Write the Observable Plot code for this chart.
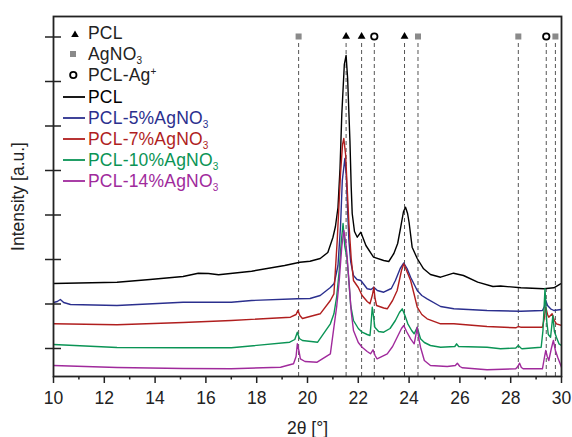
<!DOCTYPE html>
<html><head><meta charset="utf-8">
<script src="https://cdn.jsdelivr.net/npm/d3@7"></script>
<script src="https://cdn.jsdelivr.net/npm/@observablehq/plot@0.6"></script>
<style>
body{margin:0;background:#fff;font-family:"Liberation Sans",Arial,sans-serif;}
#wrap{position:relative;width:572px;height:437px;}
.row{position:absolute;font-size:17.5px;white-space:nowrap;line-height:15px;height:15px;letter-spacing:0.2px;}
.row sub{font-size:10px;vertical-align:-4px;line-height:0;}
.row sup{font-size:10px;vertical-align:6px;line-height:0;}
.sym{position:absolute;}
</style></head><body><div id="wrap"></div>
<script>
// ---- data ----
const seriesNames = ["PCL", "PCL-5%AgNO3", "PCL-7%AgNO3", "PCL-10%AgNO3", "PCL-14%AgNO3"];
const seriesColors = ["#000000", "#2b2f8e", "#b01e1e", "#0a9455", "#a02a9c"];

const pcl = [[10.0,93],[11.0,93.5],[12.5,94.3],[13.8,97],[15.1,100],[15.7,103.3],[16.1,103],[16.5,101.7],[17.8,105.3],[19.1,111],[19.7,114.3],[20.1,115.3],[20.5,118],[20.8,124],[21.0,139],[21.1,150],[21.2,169],[21.28,208],[21.35,262],[21.45,312],[21.52,321],[21.58,298],[21.67,236],[21.72,190],[21.76,163],[21.85,145],[21.96,139.3],[22.1,144.3],[22.3,131],[22.6,119.3],[23.0,116],[23.2,115],[23.4,123],[23.55,133],[23.66,148],[23.78,165],[23.86,169.3],[23.94,163],[24.0,154],[24.12,129.3],[24.32,118],[24.57,107.7],[24.84,102],[25.24,99.3],[25.75,103.3],[26.14,101],[26.7,94.3],[27.3,90],[27.6,90.5],[28.4,88.7],[29.3,87.7],[29.7,88.7],[29.96,92.7],[30.0,93]];
const pcl5 = [[10.0,74],[10.15,75],[10.27,77],[10.4,74],[10.67,72],[12.5,71],[15.1,74.3],[17.0,74.3],[17.8,76],[19.6,77.7],[20.1,78],[20.5,81],[20.9,89],[21.05,93],[21.2,111],[21.3,150],[21.37,196],[21.47,218],[21.53,200],[21.58,166],[21.63,136],[21.7,115],[21.81,101],[21.95,97],[22.1,96],[22.35,87.7],[22.5,87],[22.61,89.3],[22.75,86],[23.0,84.3],[23.3,88],[23.46,96],[23.65,108],[23.79,113.5],[23.92,108],[24.06,99.3],[24.32,86],[24.5,81],[24.71,77.7],[25.24,70],[25.76,67.7],[27.07,66],[28.4,65.3],[29.25,66],[29.33,70],[29.38,76],[29.45,71],[29.57,67.7],[29.7,66],[30.0,67]];
const pcl7 = [[10.0,52.7],[12.5,51.7],[15.1,54],[17.0,56],[19.33,59.3],[19.55,62],[19.62,66],[19.7,61],[19.8,58],[20.5,62.7],[20.9,76],[21.04,82.7],[21.17,136],[21.3,203],[21.38,232],[21.43,238],[21.5,222],[21.56,190],[21.63,153],[21.72,118],[21.81,96],[22.0,89],[22.15,81],[22.35,75],[22.46,72.7],[22.56,82],[22.61,89.3],[22.66,78],[22.72,71],[23.0,68.5],[23.14,67.7],[23.35,76],[23.53,86],[23.7,106],[23.79,112.7],[23.9,106],[24.06,96],[24.2,82],[24.32,69.3],[24.5,62],[24.71,57.7],[25.24,52.7],[25.76,52.7],[27.07,50],[28.2,48.7],[28.3,50],[28.39,49.3],[29.25,49.3],[29.32,58],[29.38,69.3],[29.45,62],[29.5,59.3],[29.63,62.7],[29.72,56],[29.8,52.7],[30.0,51]];
const pcl10 = [[10.0,32],[12.5,29],[15.1,28.7],[17.0,28.7],[19.3,34.3],[19.5,37],[19.6,44.3],[19.68,38],[19.8,36],[20.4,34.3],[20.9,52.7],[21.04,62.7],[21.15,80],[21.25,106],[21.33,135],[21.4,153],[21.47,130],[21.55,119.3],[21.63,95],[21.7,71],[21.81,56],[22.0,48],[22.15,44.3],[22.35,42],[22.46,41],[22.5,52],[22.55,69.3],[22.6,60],[22.65,49.3],[22.8,45],[23.0,44.3],[23.25,48],[23.46,56],[23.62,64],[23.73,67.7],[23.85,60],[23.95,52.7],[24.1,46],[24.2,42.7],[24.32,49.3],[24.4,42],[24.45,37.7],[24.6,34],[24.84,31],[25.24,29.3],[25.8,30],[25.87,32.7],[25.95,30],[27.07,29.3],[27.6,27.7],[28.2,28.5],[28.3,31],[28.4,28.5],[28.45,27.7],[29.2,29.3],[29.27,46],[29.35,87.7],[29.42,55],[29.48,42],[29.57,39.3],[29.66,61],[29.72,45],[29.8,39.3],[29.9,32.7],[30.0,31]];
const pcl14 = [[10.0,11],[12.5,9],[15.1,8],[17.0,7.7],[18.94,9.3],[19.45,12.7],[19.55,20],[19.6,32.7],[19.66,26],[19.72,17.7],[19.9,15],[20.38,14.3],[20.9,22.7],[21.04,49.3],[21.15,70],[21.25,96],[21.35,130],[21.43,146],[21.5,135],[21.55,123],[21.63,96],[21.72,65],[21.81,46],[22.0,34],[22.15,29.3],[22.35,25],[22.48,22.7],[22.58,26.7],[22.66,21],[22.74,17.7],[23.14,22.7],[23.35,30],[23.53,39.3],[23.7,48],[23.79,51],[23.9,45],[24.06,37.7],[24.2,32.7],[24.27,42],[24.32,49.3],[24.38,38],[24.45,29.3],[24.6,16],[24.84,11],[25.5,10],[25.82,11],[25.9,13.3],[26.0,10],[26.1,8.7],[27.07,6.7],[28.2,7.7],[28.28,10],[28.35,13.3],[28.42,9],[28.5,7.7],[29.25,7.7],[29.32,18],[29.38,26],[29.44,20],[29.5,16],[29.6,28],[29.68,36],[29.76,26],[29.85,19.3],[30.0,9.3]];

const pclPeaks = [21.52, 22.13, 23.82];          // triangles
const agno3Peaks = [19.65, 24.35, 28.3, 29.76];  // squares
const pclAgPeaks = [22.63, 29.4];                // circles
const markerLevel = 340;
const dashTop = 334;

const xTicks = [10, 12, 14, 16, 18, 20, 22, 24, 26, 28, 30];
const xMinorTicks = [11, 13, 15, 17, 19, 21, 23, 25, 27, 29];
const yTicks = [28, 72.5, 117, 161.5, 206, 250.5, 295, 339.5];

// ---- build table ----
const allSeries = [pcl, pcl5, pcl7, pcl10, pcl14];
const rows = [];
allSeries.forEach((s, i) => s.forEach(([x, y]) => rows.push({series: seriesNames[i], x, y})));
const markers = [
  ...pclPeaks.map(x => ({x, kind: "tri"})),
  ...agno3Peaks.map(x => ({x, kind: "sq"})),
  ...pclAgPeaks.map(x => ({x, kind: "circ"}))
];

const chart = Plot.plot({
  width: 572, height: 437,
  marginLeft: 53, marginRight: 11, marginTop: 16, marginBottom: 61,
  style: {fontFamily: "Liberation Sans, Arial, sans-serif", fontSize: "17px", color: "#222", background: "#fff"},
  x: {domain: [10, 30]},
  y: {domain: [0, 360]},
  color: {domain: seriesNames, range: seriesColors},
  marks: [
    Plot.ruleX(markers, {x: "x", y1: 0, y2: dashTop, stroke: "#555", strokeWidth: 1, strokeDasharray: "4,3"}),
    Plot.line(rows, {x: "x", y: "y", z: "series", stroke: "series", strokeWidth: 1.4, clip: true}),
    Plot.dot(markers.filter(d => d.kind === "tri"), {x: "x", y: markerLevel, symbol: "triangle", r: 2.9, fill: "#000"}),
    Plot.dot(markers.filter(d => d.kind === "sq"), {x: "x", y: markerLevel, symbol: "square", r: 3.4, fill: "#8a8a8a"}),
    Plot.dot(markers.filter(d => d.kind === "circ"), {x: "x", y: markerLevel, symbol: "circle", r: 3.2, fill: "#fff", stroke: "#000", strokeWidth: 1.8}),
    Plot.axisX({ticks: xTicks, tickSize: 7, tickPadding: 8, fontSize: 17.5, stroke: "#222", strokeWidth: 1.5,
      label: "2θ [°]", labelAnchor: "center", labelOffset: 57, labelArrow: "none"}),
    Plot.axisX({ticks: xMinorTicks, tickSize: 3.5, tickFormat: () => "", label: null, stroke: "#222", strokeWidth: 1.5}),
    Plot.axisY({ticks: yTicks, tickSize: 16, dx: 8, tickFormat: () => "", stroke: "#222", strokeWidth: 1.5,
      label: "Intensity [a.u.]", labelAnchor: "center", labelOffset: 42, labelArrow: "none", fontSize: 17.5}),
    Plot.frame({stroke: "#222", strokeWidth: 1.8})
  ]
});
const wrap = document.getElementById("wrap");
wrap.appendChild(chart);

// ---- legend (inside the frame, top-left) ----
const legendRows = [
  {cy: 33.5, sym: "tri", html: "PCL"},
  {cy: 54, sym: "sq", html: "AgNO<sub>3</sub>"},
  {cy: 75, sym: "circ", html: "PCL-Ag<sup>+</sup>"},
  {cy: 97, line: seriesColors[0], html: "PCL", color: seriesColors[0]},
  {cy: 118, line: seriesColors[1], html: "PCL-5%AgNO<sub>3</sub>", color: seriesColors[1]},
  {cy: 139, line: seriesColors[2], html: "PCL-7%AgNO<sub>3</sub>", color: seriesColors[2]},
  {cy: 160, line: seriesColors[3], html: "PCL-10%AgNO<sub>3</sub>", color: seriesColors[3]},
  {cy: 181, line: seriesColors[4], html: "PCL-14%AgNO<sub>3</sub>", color: seriesColors[4]}
];
for (const r of legendRows) {
  const s = document.createElementNS("http://www.w3.org/2000/svg", "svg");
  s.setAttribute("class", "sym");
  s.setAttribute("width", 30); s.setAttribute("height", 14);
  s.style.left = "60px"; s.style.top = (r.cy - 7) + "px";
  if (r.sym === "tri") s.innerHTML = '<path d="M15,3.5 L18.8,10 L11.2,10 Z" fill="#000"/>';
  else if (r.sym === "sq") s.innerHTML = '<rect x="10" y="4" width="6" height="6" fill="#8a8a8a"/>';
  else if (r.sym === "circ") s.innerHTML = '<circle cx="13.3" cy="7" r="3.2" fill="#fff" stroke="#000" stroke-width="1.8"/>';
  else s.innerHTML = `<line x1="3" x2="25" y1="7" y2="7" stroke="${r.line}" stroke-width="1.8"/>`;
  wrap.appendChild(s);
  const d = document.createElement("div");
  d.className = "row";
  d.style.left = "88px"; d.style.top = (r.cy - 7.5) + "px";
  d.style.color = r.color || "#222";
  d.innerHTML = r.html;
  wrap.appendChild(d);
}
</script></body></html>
